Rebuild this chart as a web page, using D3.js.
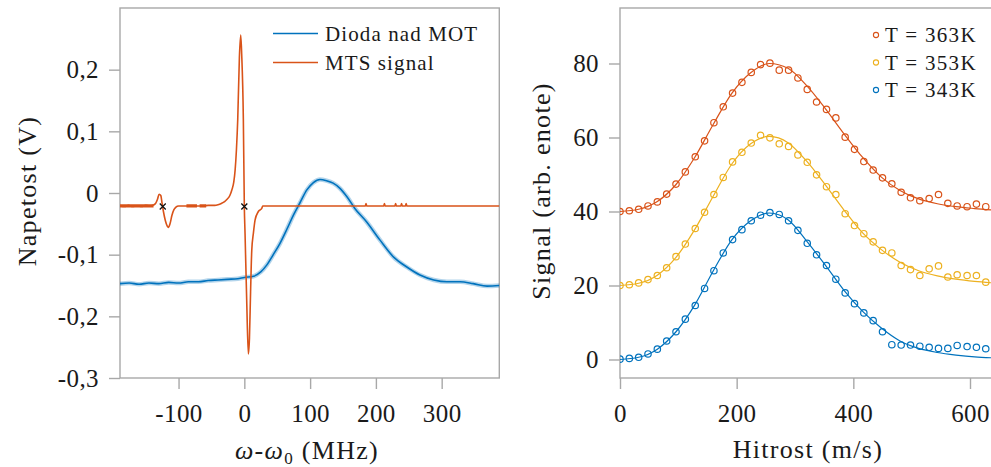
<!DOCTYPE html>
<html>
<head>
<meta charset="utf-8">
<script src="https://cdn.jsdelivr.net/npm/d3@7"></script>
<style>
  body { margin: 0; background: #fff; }
  text { font-family: "Liberation Serif", "Times New Roman", serif; fill: #1a1a1a; }
  .tick line { stroke: #a8a8a8; stroke-width: 1.4; }
  .tick text { font-size: 25px; letter-spacing: 0.4px; }
  .title { font-size: 26px; letter-spacing: 1.3px; }
  .leg { font-size: 21px; letter-spacing: 1.1px; }
</style>
</head>
<body>
<svg id="chart" width="991" height="467"></svg>
<script>
// ---- left panel data: MTS signal and diode signal vs detuning ----
const mtsFreq = [-189, -182, -176, -170, -163, -156, -150, -144, -139, -135, -132, -129.5, -127, -125, -123, -120, -117, -115.5, -113, -110, -107, -104, -100,
  -88, -75, -62, -55, -45, -40, -35, -30, -27, -22, -19, -16, -14, -12, -10, -7.5, -5.5, -4, -1.5, 0, 1.1, 3.6, 6.1, 7.8, 9.5, 11.3, 13.7, 16.3, 21.3, 26.5, 28,
  60, 100, 150, 184, 185, 186, 212, 213, 214, 229, 230, 231, 238, 239, 240, 245, 246, 247, 300, 388];
const mtsVal = [-0.021, -0.022, -0.020, -0.022, -0.021, -0.022, -0.020, -0.021, -0.020, -0.017, -0.010, -0.002, -0.004, -0.017, -0.030, -0.045, -0.054, -0.056, -0.050, -0.036, -0.027, -0.023, -0.021,
  -0.021, -0.021, -0.021, -0.020, -0.020, -0.019, -0.017, -0.014, -0.011, -0.004, 0.005, 0.018, 0.037, 0.070, 0.120, 0.220, 0.256, 0.225, 0.120, -0.022, -0.066, -0.174, -0.261, -0.235, -0.160, -0.093, -0.066, -0.044, -0.030, -0.025, -0.021,
  -0.021, -0.021, -0.021, -0.021, -0.017, -0.021, -0.021, -0.017, -0.021, -0.021, -0.017, -0.021, -0.021, -0.017, -0.021, -0.021, -0.017, -0.021, -0.021, -0.021];
// stretches of the MTS baseline that look noisy (drawn thicker)
const mtsNoisyFrom = [-189, -88, -68];
const mtsNoisyTo = [-138, -72, -58];
const mtsNoisyVal = [-0.021, -0.021, -0.021];

const diodeFreq = [-189, -175, -160, -145, -130, -115, -100, -85, -70, -55, -40, -25, -10, 0, 14, 25, 34, 44, 54, 65, 75, 85, 95, 105, 115, 125, 135, 145, 156, 168, 186, 206, 227, 247, 267, 288, 308, 328, 348, 369, 388];
const diodeVal = [-0.147, -0.146, -0.148, -0.146, -0.147, -0.145, -0.146, -0.144, -0.144, -0.142, -0.141, -0.140, -0.139, -0.137, -0.135, -0.128, -0.117, -0.100, -0.082, -0.058, -0.035, -0.015, 0.005, 0.017, 0.022, 0.020, 0.016, 0.008, -0.006, -0.025, -0.047, -0.076, -0.104, -0.120, -0.133, -0.141, -0.144, -0.144, -0.147, -0.151, -0.150];

const markFreq = [-124, 0];
const markVal = [-0.022, -0.022];

const leftXTicks = [-100, 0, 100, 200, 300];
const leftYTicks = [0.2, 0.1, 0, -0.1, -0.2, -0.3];
const leftYLabels = ["0,2", "0,1", "0", "-0,1", "-0,2", "-0,3"];
const leftLegend = ["Dioda nad MOT", "MTS signal"];

// ---- right panel data: measured points and fits per temperature ----
const speeds = [0, 16, 32, 48, 64, 80, 96, 112, 129, 145, 161, 177, 193, 209, 225, 241, 257, 273, 289, 305,
  321, 337, 354, 370, 386, 402, 418, 434, 450, 466, 482, 498, 514, 530, 546, 562, 578, 595, 611, 627];
const sig363 = [40.0, 40.2, 40.6, 41.5, 42.6, 44.7, 47.4, 50.7, 54.8, 59.1, 64.0, 68.3, 72.0, 74.9, 77.6, 79.7, 80.1, 78.2, 78.2, 76.1,
  73.0, 69.6, 67.6, 65.3, 60.1, 56.8, 53.5, 51.2, 49.1, 47.5, 45.2, 43.7, 42.9, 43.5, 44.6, 42.2, 41.5, 41.3, 42.0, 41.3];
const sig353 = [20.0, 20.2, 20.7, 21.6, 22.7, 24.8, 27.8, 31.2, 35.4, 39.8, 44.6, 49.2, 53.4, 56.0, 58.5, 60.6, 59.9, 58.3, 57.6, 55.3,
  53.3, 49.9, 46.7, 44.6, 39.4, 36.2, 34.0, 31.8, 29.5, 28.8, 25.4, 24.3, 22.7, 24.5, 25.3, 22.3, 22.9, 22.7, 22.7, 20.9];
const sig343 = [0.1, 0.3, 0.6, 1.5, 2.8, 5.0, 7.5, 10.9, 14.6, 19.2, 24.0, 28.8, 32.4, 35.1, 37.5, 39.0, 39.7, 39.2, 37.5, 34.9,
  31.4, 28.3, 25.4, 21.7, 18.0, 15.1, 12.6, 10.5, 7.5, 4.0, 3.9, 3.9, 3.6, 3.3, 3.0, 3.0, 3.8, 3.5, 3.3, 2.9];

const fitSpeeds = [0, 32, 64, 96, 128, 160, 192, 224, 256, 288, 320, 352, 384, 416, 448, 480, 512, 544, 576, 608, 640];
const fit363 = [40, 40.6, 42.7, 47.3, 54.6, 63.6, 72.0, 77.5, 80.0, 78.7, 74.0, 67.8, 61.0, 54.6, 49.3, 45.7, 43.4, 42.1, 41.3, 40.8, 40.4];
const fit353 = [20, 20.6, 22.8, 27.6, 35.1, 44.2, 52.9, 58.3, 60.3, 58.6, 53.6, 47.2, 40.4, 34.2, 29.7, 26.3, 24.0, 22.6, 21.7, 21.1, 20.7];
const fit343 = [0, 0.6, 2.8, 7.5, 14.7, 24.0, 32.4, 37.5, 39.6, 37.8, 32.0, 25.5, 18.7, 13.0, 8.5, 5.0, 3.0, 1.9, 1.2, 0.7, 0.45];

const tempLabels = ["T = 363K", "T = 353K", "T = 343K"];
const rightXTicks = [0, 200, 400, 600];
const rightYTicks = [0, 20, 40, 60, 80];

const cRed = "#D95319", cYellow = "#EDB120", cBlue = "#0072BD";

const svg = d3.select("#chart");

// ================= LEFT PANEL =================
const xL = d3.scaleLinear().domain([-189, 387.6]).range([120, 499.3]);
const yL = d3.scaleLinear().domain([-0.3, 0.3]).range([378, 8]);

svg.append("clipPath").attr("id", "clipL")
  .append("rect").attr("x", 120).attr("y", 8).attr("width", 379.3).attr("height", 370);

const left = svg.append("g");

left.append("g")
  .attr("transform", "translate(120,0)")
  .call(d3.axisLeft(yL).tickValues(leftYTicks).tickSize(11).tickPadding(10)
    .tickFormat((d, i) => leftYLabels[i]))
  .call(g => g.select(".domain").remove());

left.append("g")
  .attr("transform", "translate(0,378)")
  .call(d3.axisBottom(xL).tickValues(leftXTicks).tickSize(11).tickPadding(15)
    .tickFormat(d => String(d)))
  .call(g => g.select(".domain").remove());

left.append("rect")
  .attr("x", 120).attr("y", 8).attr("width", 379.3).attr("height", 370)
  .attr("fill", "none").attr("stroke", "#a8a8a8").attr("stroke-width", 1.4);

const lineL = d3.line().x(d => xL(d[0])).y(d => yL(d[1])).curve(d3.curveMonotoneX);
const diode = diodeFreq.map((f, i) => [f, diodeVal[i]]);
const mts = mtsFreq.map((f, i) => [f, mtsVal[i]]);

const plotL = left.append("g").attr("clip-path", "url(#clipL)");
// noisy diode trace: soft band under the line
plotL.append("path").datum(diode)
  .attr("d", lineL)
  .attr("fill", "none").attr("stroke", cBlue).attr("stroke-opacity", 0.3).attr("stroke-width", 4.5);
plotL.append("path").datum(diode)
  .attr("d", lineL)
  .attr("fill", "none").attr("stroke", cBlue).attr("stroke-width", 1.6);

plotL.append("path").datum(mts)
  .attr("d", lineL)
  .attr("fill", "none").attr("stroke", cRed).attr("stroke-width", 1.6);

plotL.selectAll(".noisy").data(mtsNoisyFrom).join("line")
  .attr("x1", d => xL(d)).attr("x2", (d, i) => xL(mtsNoisyTo[i]))
  .attr("y1", (d, i) => yL(mtsNoisyVal[i])).attr("y2", (d, i) => yL(mtsNoisyVal[i]))
  .attr("stroke", cRed).attr("stroke-width", 3.2);

// black crosses
plotL.selectAll(".mark").data(markFreq).join("path")
  .attr("d", (d, i) => {
    const cx = xL(d), cy = yL(markVal[i]), s = 3;
    return `M${cx - s},${cy - s}L${cx + s},${cy + s}M${cx - s},${cy + s}L${cx + s},${cy - s}`;
  })
  .attr("stroke", "#111").attr("stroke-width", 1.3);

// legend
const legL = left.append("g");
[cBlue, cRed].forEach((c, i) => {
  const y = 33.5 + i * 29;
  legL.append("line").attr("x1", 273).attr("x2", 318).attr("y1", y).attr("y2", y)
    .attr("stroke", c).attr("stroke-width", 1.6);
  legL.append("text").attr("class", "leg").attr("x", 325).attr("y", y + 7).text(leftLegend[i]);
});

left.append("text").attr("class", "title")
  .attr("transform", "translate(27,191) rotate(-90)")
  .attr("text-anchor", "middle").attr("dominant-baseline", "central")
  .text("Napetost (V)");

const xt = left.append("text").attr("class", "title").attr("x", 307).attr("y", 459)
  .attr("text-anchor", "middle");
xt.append("tspan").attr("font-style", "italic").text("ω");
xt.append("tspan").text("-");
xt.append("tspan").attr("font-style", "italic").text("ω");
xt.append("tspan").attr("font-size", 17).attr("dy", 5).text("0");
xt.append("tspan").attr("dy", -5).text(" (MHz)");

// ================= RIGHT PANEL =================
const xR = d3.scaleLinear().domain([0, 600]).range([620, 970]);
const yR = d3.scaleLinear().domain([-5, 95]).range([378, 8]);

svg.append("clipPath").attr("id", "clipR")
  .append("rect").attr("x", 620).attr("y", 8).attr("width", 380).attr("height", 370);

const right = svg.append("g");

right.append("g")
  .attr("transform", "translate(620,0)")
  .call(d3.axisLeft(yR).tickValues(rightYTicks).tickSize(11).tickPadding(10))
  .call(g => g.select(".domain").remove());

right.append("g")
  .attr("transform", "translate(0,378)")
  .call(d3.axisBottom(xR).tickValues(rightXTicks).tickSize(11).tickPadding(15))
  .call(g => g.select(".domain").remove());

right.append("rect")
  .attr("x", 620).attr("y", 8).attr("width", 400).attr("height", 370)
  .attr("fill", "none").attr("stroke", "#a8a8a8").attr("stroke-width", 1.4);

const series = [
  { pts: sig363, fit: fit363, color: cRed },
  { pts: sig353, fit: fit353, color: cYellow },
  { pts: sig343, fit: fit343, color: cBlue }
];

const plotR = right.append("g").attr("clip-path", "url(#clipR)");
const fitLine = d3.line().x(d => xR(d[0])).y(d => yR(d[1])).curve(d3.curveMonotoneX);

series.forEach(s => {
  plotR.append("path")
    .datum(fitSpeeds.map((v, i) => [v, s.fit[i]]))
    .attr("d", fitLine)
    .attr("fill", "none").attr("stroke", s.color).attr("stroke-width", 1.2);
  plotR.append("g").selectAll("circle")
    .data(speeds.map((v, i) => [v, s.pts[i]]))
    .join("circle")
    .attr("cx", d => xR(d[0])).attr("cy", d => yR(d[1]))
    .attr("r", 3.2)
    .attr("fill", "none").attr("stroke", s.color).attr("stroke-width", 1.2);
});

// legend
const legR = right.append("g");
series.forEach((s, i) => {
  const y = 35 + i * 27.5;
  legR.append("circle").attr("cx", 876).attr("cy", y).attr("r", 2.6)
    .attr("fill", "none").attr("stroke", s.color).attr("stroke-width", 1.1);
  legR.append("text").attr("class", "leg").attr("x", 885).attr("y", y + 7)
    .style("letter-spacing", "1.3px").text(tempLabels[i]);
});

right.append("text").attr("class", "title")
  .attr("transform", "translate(541,191) rotate(-90)")
  .attr("text-anchor", "middle").attr("dominant-baseline", "central")
  .text("Signal (arb. enote)");

right.append("text").attr("class", "title").attr("x", 808).attr("y", 458)
  .attr("text-anchor", "middle").text("Hitrost (m/s)");
</script>
</body>
</html>
